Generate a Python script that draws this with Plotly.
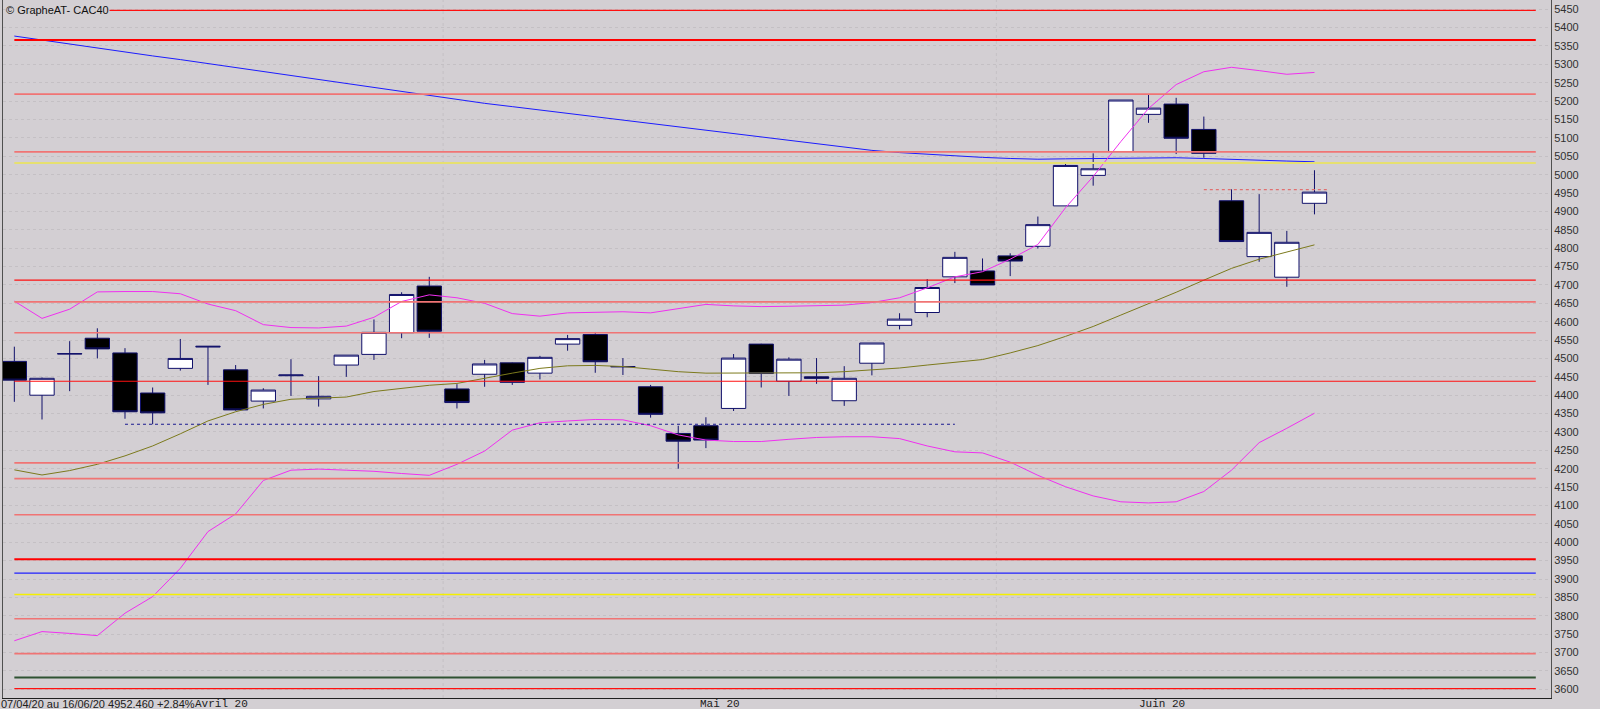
import plotly.graph_objects as go

# ---------------- data ----------------
dates = ["2020-04-07", "2020-04-08", "2020-04-09", "2020-04-14", "2020-04-15", "2020-04-16",
         "2020-04-17", "2020-04-20", "2020-04-21", "2020-04-22", "2020-04-23", "2020-04-24",
         "2020-04-27", "2020-04-28", "2020-04-29", "2020-04-30",
         "2020-05-04", "2020-05-05", "2020-05-06", "2020-05-07", "2020-05-08", "2020-05-11",
         "2020-05-12", "2020-05-13", "2020-05-14", "2020-05-15", "2020-05-18", "2020-05-19",
         "2020-05-20", "2020-05-21", "2020-05-22", "2020-05-25", "2020-05-26", "2020-05-27",
         "2020-05-28", "2020-05-29",
         "2020-06-01", "2020-06-02", "2020-06-03", "2020-06-04", "2020-06-05", "2020-06-08",
         "2020-06-09", "2020-06-10", "2020-06-11", "2020-06-12", "2020-06-15", "2020-06-16"]

opens = [4492, 4400, 4512, 4555, 4515, 4406, 4473, 4531, 4469, 4384, 4453, 4390,
         4482, 4511, 4570, 4697, 4417, 4457, 4488, 4460, 4539, 4565, 4477, 4423,
         4296, 4317, 4364, 4539, 4438, 4450, 4385, 4487, 4590, 4625, 4722, 4738,
         4779, 4805, 4915, 4998, 5063, 5164, 5192, 5123, 4929, 4777, 4721, 4922]
highs = [4532, 4448, 4547, 4582, 4528, 4421, 4553, 4533, 4482, 4419, 4498, 4452,
         4509, 4606, 4680, 4722, 4430, 4496, 4489, 4507, 4564, 4572, 4501, 4428,
         4317, 4340, 4512, 4540, 4503, 4501, 4479, 4542, 4623, 4716, 4790, 4772,
         4786, 4886, 5031, 5058, 5203, 5219, 5209, 5158, 4960, 4947, 4847, 5012]
lows = [4382, 4334, 4411, 4500, 4336, 4321, 4467, 4428, 4358, 4364, 4398, 4369,
        4450, 4496, 4555, 4556, 4364, 4423, 4428, 4443, 4521, 4461, 4455, 4339,
        4200, 4256, 4357, 4421, 4398, 4431, 4371, 4454, 4579, 4612, 4705, 4700,
        4724, 4799, 4915, 4970, 5063, 5141, 5056, 5046, 4818, 4763, 4695, 4892]
closes = [4441, 4446, 4513, 4526, 4355, 4352, 4500, 4533, 4360, 4414, 4455, 4397,
          4509, 4571, 4674, 4574, 4380, 4485, 4435, 4503, 4554, 4491, 4478, 4348,
          4275, 4278, 4501, 4459, 4498, 4446, 4446, 4542, 4607, 4693, 4775, 4700,
          4765, 4864, 5025, 5016, 5203, 5181, 5099, 5058, 4818, 4843, 4816, 4952.46]

ma_long = [5377, 5366, 5356, 5345, 5334, 5323, 5313, 5302, 5291, 5281, 5270, 5259,
           5248, 5238, 5227, 5215, 5204, 5194, 5185, 5176, 5167, 5157, 5148, 5139,
           5130, 5121, 5111, 5102, 5093, 5084, 5075, 5066, 5060, 5055, 5051, 5047,
           5044, 5042, 5043, 5044, 5045, 5046, 5046, 5044, 5041, 5039, 5037, 5035]
boll_mid = [4197, 4183, 4195, 4212, 4235, 4262, 4295, 4330, 4355, 4375, 4389, 4391,
            4395, 4410, 4418, 4427, 4432, 4447, 4460, 4473, 4480, 4481, 4478, 4471,
            4464, 4460, 4460, 4460, 4460, 4461, 4464, 4468, 4474, 4482, 4490, 4497,
            4515, 4535, 4560, 4587, 4618, 4648, 4680, 4713, 4745, 4770, 4790, 4809]
boll_up = [4656, 4609, 4634, 4681, 4682, 4682, 4676, 4648, 4630, 4592, 4584, 4583,
           4588, 4612, 4655, 4673, 4665, 4650, 4622, 4615, 4624, 4626, 4627, 4624,
           4636, 4647, 4643, 4641, 4642, 4644, 4645, 4652, 4665, 4692, 4722, 4736,
           4770, 4810, 4910, 4995, 5090, 5180, 5245, 5280, 5292, 5283, 5273, 5278]
boll_low = [3732, 3757, 3752, 3746, 3807, 3852, 3929, 4029, 4077, 4168, 4196, 4199,
            4196, 4193, 4187, 4182, 4212, 4248, 4305, 4325, 4330, 4334, 4333, 4317,
            4292, 4278, 4274, 4274, 4280, 4285, 4287, 4287, 4282, 4262, 4246, 4243,
            4218, 4182, 4151, 4126, 4110, 4107, 4110, 4138, 4196, 4271, 4310, 4351]

# support / resistance levels
levels_red = [5447, 4713, 4438, 3602]
levels_red_thick = [5366, 3954]
levels_pink = [5219, 5062, 4654, 4570, 4216, 4173, 4075, 3792, 3697]
levels_yellow_pale = [5032]
levels_yellow = [3858]
levels_blue = [3916]
levels_green = [3632]
level_blue_dashed = 4321
level_red_dashed = 4959

month_names = {"04": "Avril 20", "05": "Mai 20", "06": "Juin 20"}
title_text = "© GrapheAT- CAC40"
footer_text = "07/04/20 au 16/06/20 4952.460 +2.84%"

# ---------------- figure ----------------
BG = "#d3cfd3"
NAVY = "#10106a"
n = len(closes)
x = list(range(n))
x_end = n + 7  # horizontal levels extend to the right

fig = go.Figure()
fig.add_trace(go.Candlestick(
    x=x, open=opens, high=highs, low=lows, close=closes,
    increasing=dict(fillcolor="#ffffff", line=dict(color=NAVY, width=1)),
    decreasing=dict(fillcolor="#000000", line=dict(color=NAVY, width=1)),
    whiskerwidth=0, hoverinfo="skip"))

fig.add_trace(go.Scatter(x=x, y=ma_long, mode="lines", line=dict(color="#1c1cff", width=1), hoverinfo="skip"))
fig.add_trace(go.Scatter(x=x, y=boll_mid, mode="lines", line=dict(color="#7c7a1c", width=1), hoverinfo="skip"))
fig.add_trace(go.Scatter(x=x, y=boll_up, mode="lines", line=dict(color="#f030f0", width=1), hoverinfo="skip"))
fig.add_trace(go.Scatter(x=x, y=boll_low, mode="lines", line=dict(color="#f030f0", width=1), hoverinfo="skip"))

shapes = []
def hline(v, color, width, x0=0, x1=x_end, dash="solid"):
    shapes.append(dict(type="line", xref="x", yref="y", x0=x0, x1=x1, y0=v, y1=v,
                       line=dict(color=color, width=width, dash=dash), layer="above"))

for v in levels_pink:
    hline(v, "#f07474", 1.6)
for v in levels_red:
    hline(v, "#ff1010", 1.2)
for v in levels_red_thick:
    hline(v, "#ff0000", 2)
for v in levels_yellow_pale:
    hline(v, "#e6e070", 2)
for v in levels_yellow:
    hline(v, "#f4f000", 1.6)
for v in levels_blue:
    hline(v, "#2020ff", 1.4)
for v in levels_green:
    hline(v, "#2f5232", 2.2)
hline(level_blue_dashed, "#1a1a90", 1.2, x0=4, x1=34, dash="dot")
hline(level_red_dashed, "#e07070", 1.2, x0=43, x1=n - 0.5, dash="dot")

annotations = [
    dict(text=title_text, xref="paper", yref="paper", x=0.0, y=1.0, xanchor="left", yanchor="top",
         xshift=2, yshift=-3, showarrow=False, bgcolor=BG, borderpad=0,
         font=dict(family="Liberation Sans", size=11, color="#101010")),
    dict(text=footer_text, xref="paper", yref="paper", x=0.0, y=0.0, xanchor="left", yanchor="top",
         xshift=-3, yshift=1.5, showarrow=False, borderpad=0,
         font=dict(family="Liberation Sans", size=11, color="#202020")),
]

# month separators and month labels (centred on each month's candles)
months = [d[5:7] for d in dates]
month_keys = []
for m in months:
    if m not in month_keys:
        month_keys.append(m)
for m in month_keys:
    idx = [i for i, mm in enumerate(months) if mm == m]
    annotations.append(dict(text=month_names[m], xref="x", yref="paper", x=(idx[0] + idx[-1]) / 2, y=0.0,
                            xanchor="center", yanchor="top", yshift=1.5, showarrow=False, borderpad=0,
                            font=dict(family="Liberation Mono", size=11, color="#202020")))
    if idx[0] > 0:
        shapes.append(dict(type="line", xref="x", yref="paper", x0=idx[0] - 0.5, x1=idx[0] - 0.5,
                           y0=0, y1=1, line=dict(color="#c5c1c5", width=1, dash="dot"), layer="below"))

fig.update_layout(
    width=1600, height=709,
    margin=dict(l=3, r=49, t=0, b=11),
    paper_bgcolor=BG, plot_bgcolor=BG,
    showlegend=False, boxgap=0.12, boxgroupgap=0,
    shapes=shapes, annotations=annotations,
    xaxis=dict(range=[-0.41, n + 7.55], rangeslider=dict(visible=False),
               showticklabels=False, ticks="", showgrid=False, zeroline=False,
               showline=True, linecolor="#202020", linewidth=1, automargin=False),
    yaxis=dict(range=[3576.3, 5475.1], side="right", dtick=50, tick0=3600,
               showgrid=True, gridcolor="#c4c0c4", griddash="dot", gridwidth=1,
               ticks="", zeroline=False, automargin=False,
               tickfont=dict(family="Liberation Sans", size=11, color="#303030"),
               showline=True, linecolor="#505050", linewidth=1, mirror=True),
)

fig.write_html("out.html", config={"displayModeBar": False, "staticPlot": True},
               post_script="document.body.style.margin='0';document.body.style.overflow='hidden';")
